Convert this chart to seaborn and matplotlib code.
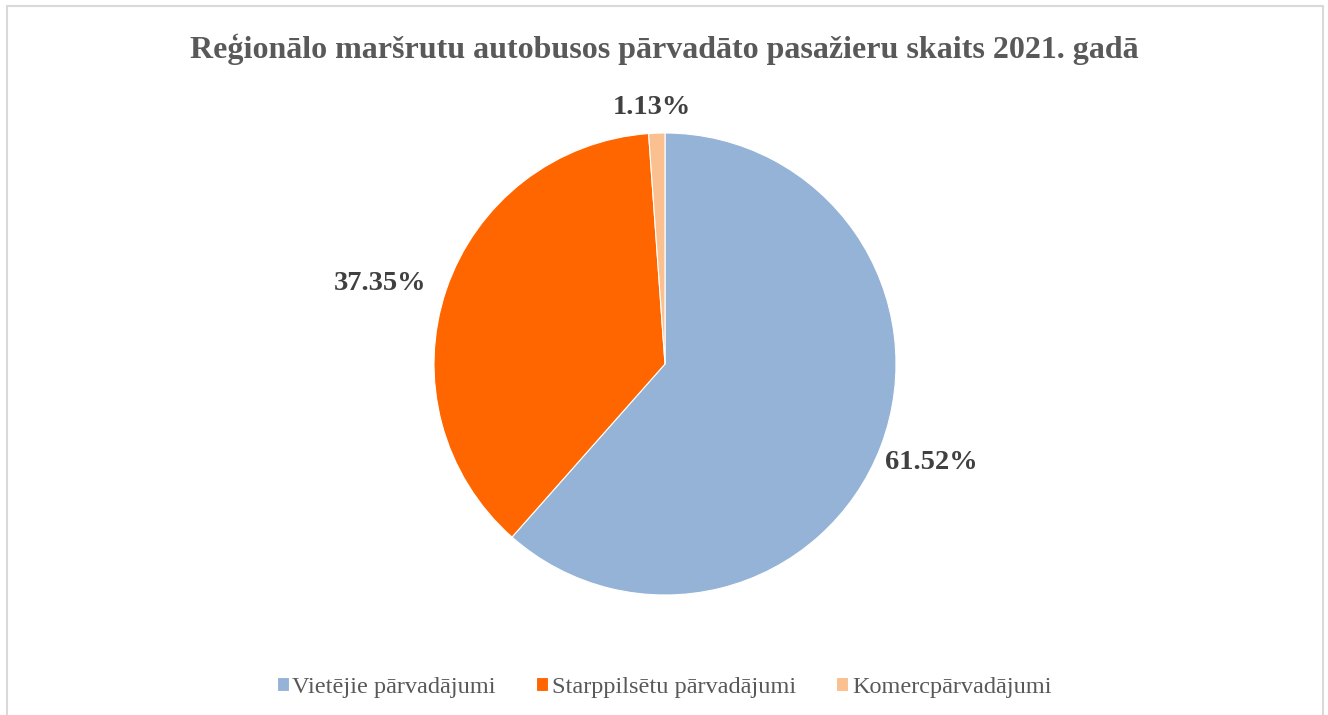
import numpy as np
import seaborn as sns
import matplotlib.pyplot as plt
from matplotlib.patches import Rectangle

# data
categories = ["Vietējie pārvadājumi", "Starppilsētu pārvadājumi", "Komercpārvadājumi"]
shares = [61.52, 37.35, 1.13]
pct_labels = ["61.52%", "37.35%", "1.13%"]

colors = ["#95B3D7", "#FF6600", "#FAC090"]
# label placement: radial distance and small angle nudge (deg)
label_dist = [1.23, 1.28, 1.11]
label_nudge = [0.5, 3.0, 0.9]

sns.set_theme(style="white")
plt.rcParams['font.family'] = ['Liberation Serif', 'DejaVu Serif']

W, H = 1328, 715
fig = plt.figure(figsize=(W / 100, H / 100), dpi=100)

# pie axes: centre (665, 364) px, radius 231 px
cx, cy, r = 665, 364, 231
ax = fig.add_axes([(cx - r) / W, 1 - (cy + r) / H, 2 * r / W, 2 * r / H])

wedges, _ = ax.pie(shares, colors=colors, startangle=90, counterclock=False,
                   wedgeprops=dict(linewidth=0.8, edgecolor="white"))
ax.set_xlim(-1, 1)
ax.set_ylim(-1, 1)
ax.set_aspect("equal")
ax.axis("off")

for w, lab, d, nd in zip(wedges, pct_labels, label_dist, label_nudge):
    ang = np.deg2rad((w.theta1 + w.theta2) / 2 + nd)
    ax.text(d * np.cos(ang), d * np.sin(ang), lab, ha="center", va="center",
            fontsize=20.5, fontweight="bold", color="#404040", clip_on=False)

fig.text(0.5, 1 - 49 / H, "Reģionālo maršrutu autobusos pārvadāto pasažieru skaits 2021. gadā",
         ha="center", va="center", fontsize=23, fontweight="bold", color="#595959")

fig.legend(wedges, categories, loc="center", bbox_to_anchor=(0.5, 1 - 687 / H),
           ncol=3, frameon=False, fontsize=17.5, labelcolor="#595959",
           handlelength=0.5, handleheight=0.5, handletextpad=0.15, columnspacing=1.65)

# light chart-area border
fig.add_artist(Rectangle((7 / W, -0.05), (1323 - 7) / W, 1.05 - 6 / H,
                         transform=fig.transFigure, fill=False,
                         edgecolor="#D9D9D9", linewidth=1.5))

fig.savefig("out.png", dpi=100)
